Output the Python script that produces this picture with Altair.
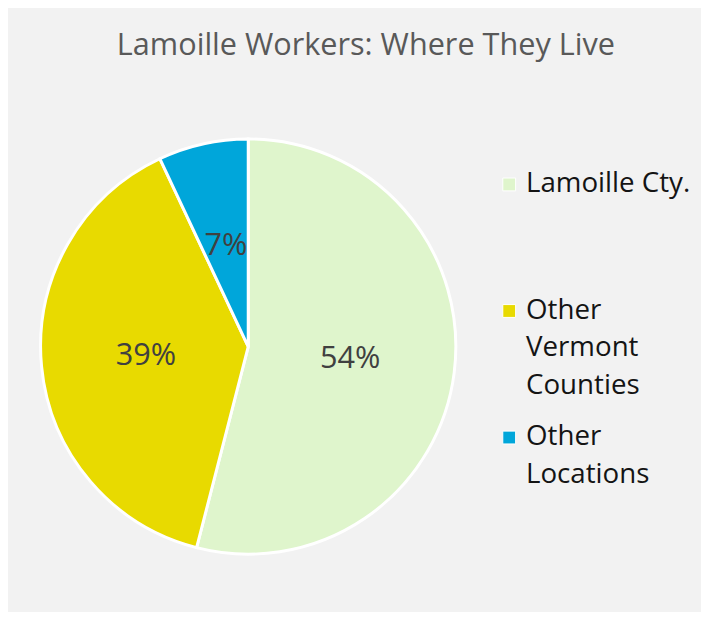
import altair as alt
import pandas as pd

categories = ["Lamoille Cty.", "Other Vermont Counties", "Other Locations"]
shares = [54, 39, 7]
label_lines = [["Lamoille Cty.", " ", " "], ["Other", "Vermont", "Counties"], ["Other", "Locations", " "]]
colors = ["#dff5cc", "#e8da00", "#00a6da"]

df = pd.DataFrame({
    "category": categories,
    "share": shares,
    "order": list(range(len(categories))),
    "label": [f"{v}%" for v in shares],
})

label_map = {c: "|".join(l) for c, l in zip(categories, label_lines)}
label_expr = "split(" + "{" + ", ".join(f"'{c}': '{v}'" for c, v in label_map.items()) + "}[datum.label], '|')"

color_scale = alt.Scale(domain=categories, range=colors)

base = alt.Chart(df).encode(
    theta=alt.Theta("share:Q", stack=True),
    order=alt.Order("order:Q"),
)

arcs = base.mark_arc(stroke="white", strokeWidth=3, radius=210).encode(
    color=alt.Color(
        "category:N",
        scale=color_scale,
        sort=categories,
        legend=alt.Legend(
            title=None,
            orient="none",
            legendX=457,
            legendY=29,
            symbolType="square",
            symbolSize=169,
            symbolStrokeColor="white",
            symbolStrokeWidth=1,
            labelFont="Open Sans",
            labelFontSize=28,
            labelColor="#141414",
            labelLimit=300,
            labelOffset=3,
            labelBaseline="middle",
            labelExpr=label_expr,
            rowPadding=24,
        ),
    )
)

texts = base.mark_text(radius=104, font="Open Sans", fontSize=31, color="#404040").encode(
    text="label:N"
)

chart = (arcs + texts).properties(
    width=414,
    height=414,
    autosize=alt.AutoSizeParams(type="none"),
    padding={"left": 36, "top": 132, "right": 251, "bottom": 58},
    background="#f2f2f2",
    title=alt.TitleParams(
        "Lamoille Workers: Where They Live",
        font="Open Sans",
        fontSize=31,
        fontWeight="normal",
        color="#595959",
        anchor="middle",
        baseline="alphabetic",
        dx=119,
        offset=48,
    ),
).configure(style={"guide-label": {"lineHeight": 38}}).configure_view(stroke=None)

chart.save("out.html", embed_options={"renderer": "svg", "actions": False})
